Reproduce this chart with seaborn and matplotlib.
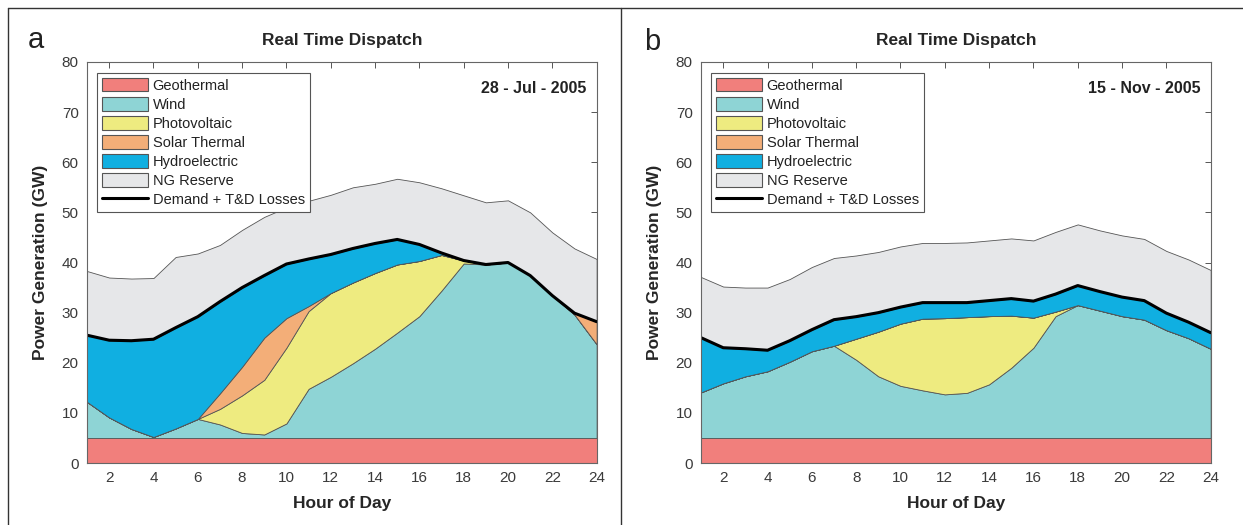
import matplotlib
matplotlib.use("Agg")
import numpy as np
import pandas as pd
import matplotlib.pyplot as plt
from matplotlib.lines import Line2D
import seaborn as sns


# ----------------------- Data (GW, per hour of day)
hours = list(range(1, 25))

sources = ["Geothermal", "Wind", "Photovoltaic", "Solar Thermal", "Hydroelectric", "NG Reserve"]

# 28-Jul-2005
jul_geothermal = [5.0] * 24
jul_wind = [7.2, 4.1, 1.8, 0.2, 1.9, 3.8, 2.7, 1.0, 0.7, 2.9, 9.8, 12.2,
            14.9, 17.8, 21.0, 24.3, 29.4, 34.8, 34.6, 35.0, 32.4, 28.4, 24.6, 18.7]
jul_pv = [0.0, 0.0, 0.0, 0.0, 0.0, 0.0, 3.1, 7.5, 10.9, 15.1, 15.5, 16.7,
          16.1, 15.1, 13.6, 11.0, 7.1, 0.6, 0.0, 0.0, 0.0, 0.0, 0.0, 0.0]
jul_solar_thermal = [0.0, 0.0, 0.0, 0.0, 0.0, 0.0, 3.1, 5.7, 8.4, 5.9, 1.0, 0.0,
                     0.0, 0.0, 0.0, 0.0, 0.0, 0.0, 0.0, 0.0, 0.0, 0.0, 0.3, 4.5]
jul_hydro = [13.3, 15.4, 17.6, 19.5, 20.1, 20.4, 18.3, 15.8, 12.4, 10.8, 9.4, 7.7,
             6.8, 5.9, 5.0, 3.3, 0.4, 0.0, 0.0, 0.0, 0.0, 0.0, 0.0, 0.0]
jul_ng_reserve = [12.8, 12.5, 12.4, 12.2, 14.1, 12.6, 11.3, 11.5, 11.7, 11.3, 11.6, 11.9,
                  12.2, 11.9, 12.1, 12.4, 12.9, 13.0, 12.4, 12.4, 12.6, 12.6, 12.9, 12.5]
jul_demand = [25.5, 24.5, 24.4, 24.7, 27.0, 29.2, 32.2, 35.0, 37.4, 39.7, 40.7, 41.6,
              42.8, 43.8, 44.6, 43.6, 41.9, 40.4, 39.6, 40.0, 37.4, 33.4, 29.9, 28.2]

# 15-Nov-2005
nov_geothermal = [5.0] * 24
nov_wind = [9.1, 10.9, 12.3, 13.3, 15.2, 17.3, 18.4, 15.6, 12.3, 10.4, 9.5, 8.7,
            9.0, 10.7, 14.0, 18.0, 24.3, 26.5, 25.4, 24.3, 23.6, 21.5, 19.9, 17.8]
nov_pv = [0.0, 0.0, 0.0, 0.0, 0.0, 0.0, 0.0, 4.2, 8.9, 12.4, 14.3, 15.2,
          15.1, 13.6, 10.4, 6.0, 0.9, 0.0, 0.0, 0.0, 0.0, 0.0, 0.0, 0.0]
nov_solar_thermal = [0.0] * 24
nov_hydro = [10.9, 7.1, 5.5, 4.2, 4.2, 4.3, 5.2, 4.4, 3.8, 3.3, 3.2, 3.1,
             2.9, 3.1, 3.4, 3.3, 3.5, 3.9, 3.8, 3.8, 3.8, 3.4, 3.2, 3.2]
nov_ng_reserve = [12.1, 12.2, 12.2, 12.5, 12.3, 12.5, 12.3, 12.2, 12.1, 12.1, 11.9, 11.9,
                  12.0, 12.0, 12.0, 12.1, 12.4, 12.2, 12.2, 12.3, 12.3, 12.4, 12.5, 12.5]
nov_demand = [25.0, 23.0, 22.8, 22.5, 24.4, 26.6, 28.6, 29.2, 30.0, 31.1, 32.0, 32.0,
              32.0, 32.4, 32.8, 32.3, 33.7, 35.4, 34.2, 33.1, 32.4, 29.9, 28.1, 26.0]

colors = ["#F17F7C", "#8ED4D5", "#EEEB80", "#F3AE78", "#10AFE1", "#E6E7E9"]


# ----------------------- Style
sns.set_theme(style="white")
plt.rcParams["font.family"] = ["Liberation Sans", "DejaVu Sans"]
plt.rcParams["xtick.direction"] = "in"
plt.rcParams["ytick.direction"] = "in"


def draw_panel(ax, layers, demand, date_label):

    ax.stackplot(hours, *layers, colors=colors, edgecolor="#555555", linewidth=0.6)

    df = pd.DataFrame({"hour": hours, "demand": demand})
    sns.lineplot(data=df, x="hour", y="demand", color="black", linewidth=2.2, ax=ax)

    ax.set_xlim(1, 24)
    ax.set_ylim(0, 80)
    ax.set_xticks(range(2, 25, 2))
    ax.set_yticks(range(0, 81, 10))
    ax.tick_params(axis="both", which="both", top=True, right=True, length=4,
                   width=0.7, color="#555555", labelsize=11, labelcolor="#3a3a3a", pad=6)
    for sp in ax.spines.values():
        sp.set_color("#666666")
        sp.set_linewidth(0.8)

    ax.set_title("Real Time Dispatch", fontsize=12.5, fontweight="bold", pad=12)
    ax.set_xlabel("Hour of Day", fontsize=12.5, fontweight="bold", labelpad=8)
    ax.set_ylabel("Power Generation (GW)", fontsize=12.5, fontweight="bold", labelpad=10)

    ax.text(0.98, 0.935, date_label, transform=ax.transAxes, ha="right", va="center",
            fontsize=11.5, fontweight="bold", color="#222222")

    handles = [plt.Rectangle((0, 0), 1, 1, facecolor=c, edgecolor="#555555", linewidth=0.8)
               for c in colors]
    handles.append(Line2D([0], [0], color="black", linewidth=2.2))
    labels = sources + ["Demand + T&D Losses"]
    leg = ax.legend(handles, labels, loc="upper left", bbox_to_anchor=(0.02, 0.973),
                    borderaxespad=0, fontsize=10.5, handlelength=3.15, handleheight=1.05,
                    handletextpad=0.3, labelspacing=0.3, borderpad=0.35,
                    fancybox=False, framealpha=1, edgecolor="#555555")
    leg.get_frame().set_linewidth(0.8)
    for t in leg.get_texts():
        t.set_color("#222222")


# ----------------------- Figure
fig = plt.figure(figsize=(12.43, 5.25), dpi=100)

ax_a = fig.add_axes([0.070, 0.118, 0.410, 0.764])
ax_b = fig.add_axes([0.564, 0.118, 0.410, 0.764])

draw_panel(ax_a,
           [jul_geothermal, jul_wind, jul_pv, jul_solar_thermal, jul_hydro, jul_ng_reserve],
           jul_demand, "28 - Jul - 2005")
draw_panel(ax_b,
           [nov_geothermal, nov_wind, nov_pv, nov_solar_thermal, nov_hydro, nov_ng_reserve],
           nov_demand, "15 - Nov - 2005")

fig.text(28 / 1243, 1 - 40 / 525, "a", fontsize=21, va="center", ha="left", color="#222222")
fig.text(644 / 1243, 1 - 42 / 525, "b", fontsize=21, va="center", ha="left", color="#222222")

# panel frames
frame_kw = dict(color="#333333", linewidth=1.0, transform=fig.transFigure)
fig.add_artist(Line2D([8 / 1243, 1], [1 - 8 / 525, 1 - 8 / 525], **frame_kw))
fig.add_artist(Line2D([8 / 1243, 8 / 1243], [0, 1 - 8 / 525], **frame_kw))
fig.add_artist(Line2D([621 / 1243, 621 / 1243], [0, 1 - 8 / 525], **frame_kw))

fig.savefig("out.png", dpi=100)
